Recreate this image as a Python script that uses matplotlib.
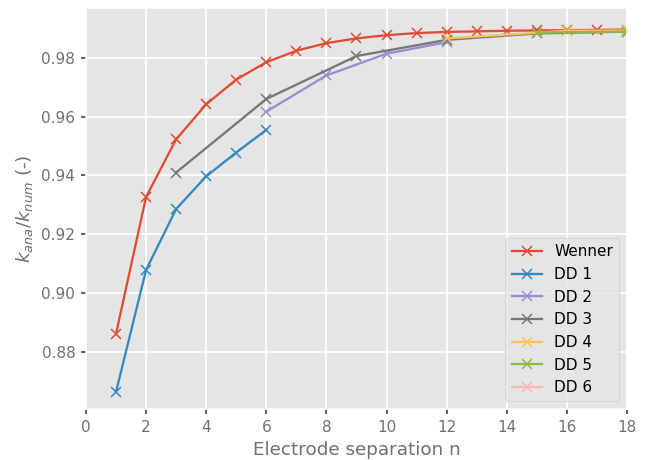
import matplotlib
matplotlib.use('Agg')
from matplotlib import pyplot as plt

# electrode separation n and k_ana/k_num for each array
n_wenner = list(range(1, 19))
k_wenner = [0.8862, 0.9327, 0.9523, 0.9642, 0.9726, 0.9785, 0.9824, 0.9850,
            0.9866, 0.9877, 0.9884, 0.9888, 0.9890, 0.9892, 0.9893, 0.9894,
            0.9895, 0.9896]

n_dd1 = [1, 2, 3, 4, 5, 6]
k_dd1 = [0.8664, 0.9079, 0.9286, 0.9397, 0.9478, 0.9555]

n_dd2 = [6, 8, 10, 12]
k_dd2 = [0.9617, 0.9740, 0.9814, 0.9853]

n_dd3 = [3, 6, 9, 12, 15, 18]
k_dd3 = [0.9410, 0.9660, 0.9806, 0.9861, 0.9883, 0.9889]

n_dd4 = [12, 16, 18]
k_dd4 = [0.9866, 0.9892, 0.9893]

n_dd5 = [15, 18]
k_dd5 = [0.9886, 0.9889]

n_dd6 = []
k_dd6 = []

series = [
    ('Wenner', n_wenner, k_wenner),
    ('DD 1', n_dd1, k_dd1),
    ('DD 2', n_dd2, k_dd2),
    ('DD 3', n_dd3, k_dd3),
    ('DD 4', n_dd4, k_dd4),
    ('DD 5', n_dd5, k_dd5),
    ('DD 6', n_dd6, k_dd6),
]

plt.style.use('ggplot')
dpi = 110
fig = plt.figure(figsize=(649 / dpi, 460 / dpi), dpi=dpi)
ax = fig.add_subplot(111)
fig.subplots_adjust(left=0.1325, right=0.966, top=0.983, bottom=0.111)

for label, n, k in series:
    ax.plot(n, k, marker='x', markersize=6, label=label)

ax.set_xlim(0, 18)
ax.set_ylim(0.8606, 0.997)
ax.set_xticks(range(0, 19, 2))
ax.tick_params(which='major', direction='out', length=3.5, width=1.2,
               color='#555555', labelcolor='#707070')
for tick in ax.xaxis.get_major_ticks() + ax.yaxis.get_major_ticks():
    tick.tick1line.set_clip_on(False)
    tick.tick1line.set_zorder(5)
ax.grid(True, color='white', linewidth=1.1)
ax.set_xlabel('Electrode separation n', color='#707070')
ax.set_ylabel('$k_{ana}/k_{num}$ (-)', color='#707070')
ax.legend(loc='lower right')

fig.savefig('out.png', dpi=dpi)
